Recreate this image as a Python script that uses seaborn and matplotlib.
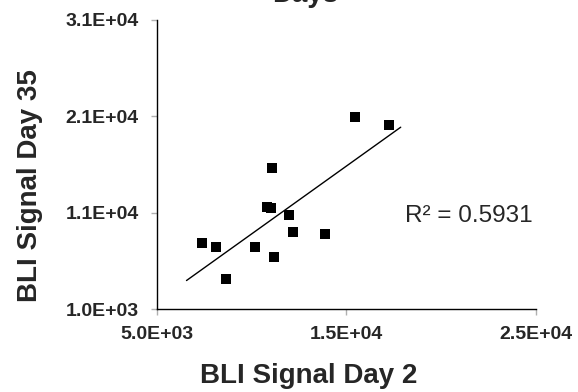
import numpy as np
import pandas as pd
import matplotlib
matplotlib.use('Agg')
import matplotlib.pyplot as plt
import seaborn as sns

# Data
day2 = [7375, 8145, 8673, 10172, 10821, 11016, 11100, 11190, 11997, 12208, 13897, 15480, 17274]
day35 = [7854, 7407, 4084, 7438, 11592, 11488, 15611, 6431, 10730, 8996, 8757, 20907, 20107]
x_ticks = [5000, 15000, 25000]
y_ticks = [1000, 11000, 21000, 31000]
r2_label = 'R\u00b2 = 0.5931'

df = pd.DataFrame({'Day 2': day2, 'Day 35': day35})

sns.set_style('white')
plt.rcParams['font.family'] = ['Liberation Sans', 'DejaVu Sans']

fig = plt.figure(figsize=(5.78, 3.92), dpi=100)
ax = fig.add_axes([0.271, 0.2117, 0.656, 0.7373])

sns.scatterplot(data=df, x='Day 2', y='Day 35', marker='s', s=55,
                color='black', edgecolor='black', linewidth=0, ax=ax)

# Linear trendline
slope, intercept = np.polyfit(df['Day 2'], df['Day 35'], 1)
xs = np.array([df['Day 2'].min() - 800, df['Day 2'].max() + 600])
ax.plot(xs, slope * xs + intercept, color='black', linewidth=1)

fig.text(0.701, 0.449, r2_label, fontsize=17.5, va='center', ha='left')

ax.set_xlim(5000, 25000)
ax.set_ylim(1000, 31000)
ax.set_xticks(x_ticks)
ax.set_yticks(y_ticks)
ax.set_xticklabels([f'{v:.1E}' for v in x_ticks], fontsize=14, fontweight='bold')
ax.set_yticklabels([f'{v:.1E}' for v in y_ticks], fontsize=14, fontweight='bold')
ax.tick_params(axis='both', direction='out', length=4, color='#b0b0b0', width=1,
               bottom=True, left=True)
ax.tick_params(axis='x', pad=8.5)
ax.tick_params(axis='y', pad=9)

sns.despine(ax=ax)
for side in ['left', 'bottom']:
    ax.spines[side].set_color('black')
    ax.spines[side].set_linewidth(1)

ax.set_xlabel('BLI Signal Day 2', fontsize=20, fontweight='bold', va='center')
ax.set_ylabel('BLI Signal Day 35', fontsize=20, fontweight='bold', va='center')
ax.xaxis.set_label_coords(0.402, -0.232)
ax.yaxis.set_label_coords(-0.334, 0.426)

fig.text(0.528, 0.995, 'Days', fontsize=20, fontweight='bold', ha='center', va='baseline')

fig.savefig('out.png', dpi=100)
